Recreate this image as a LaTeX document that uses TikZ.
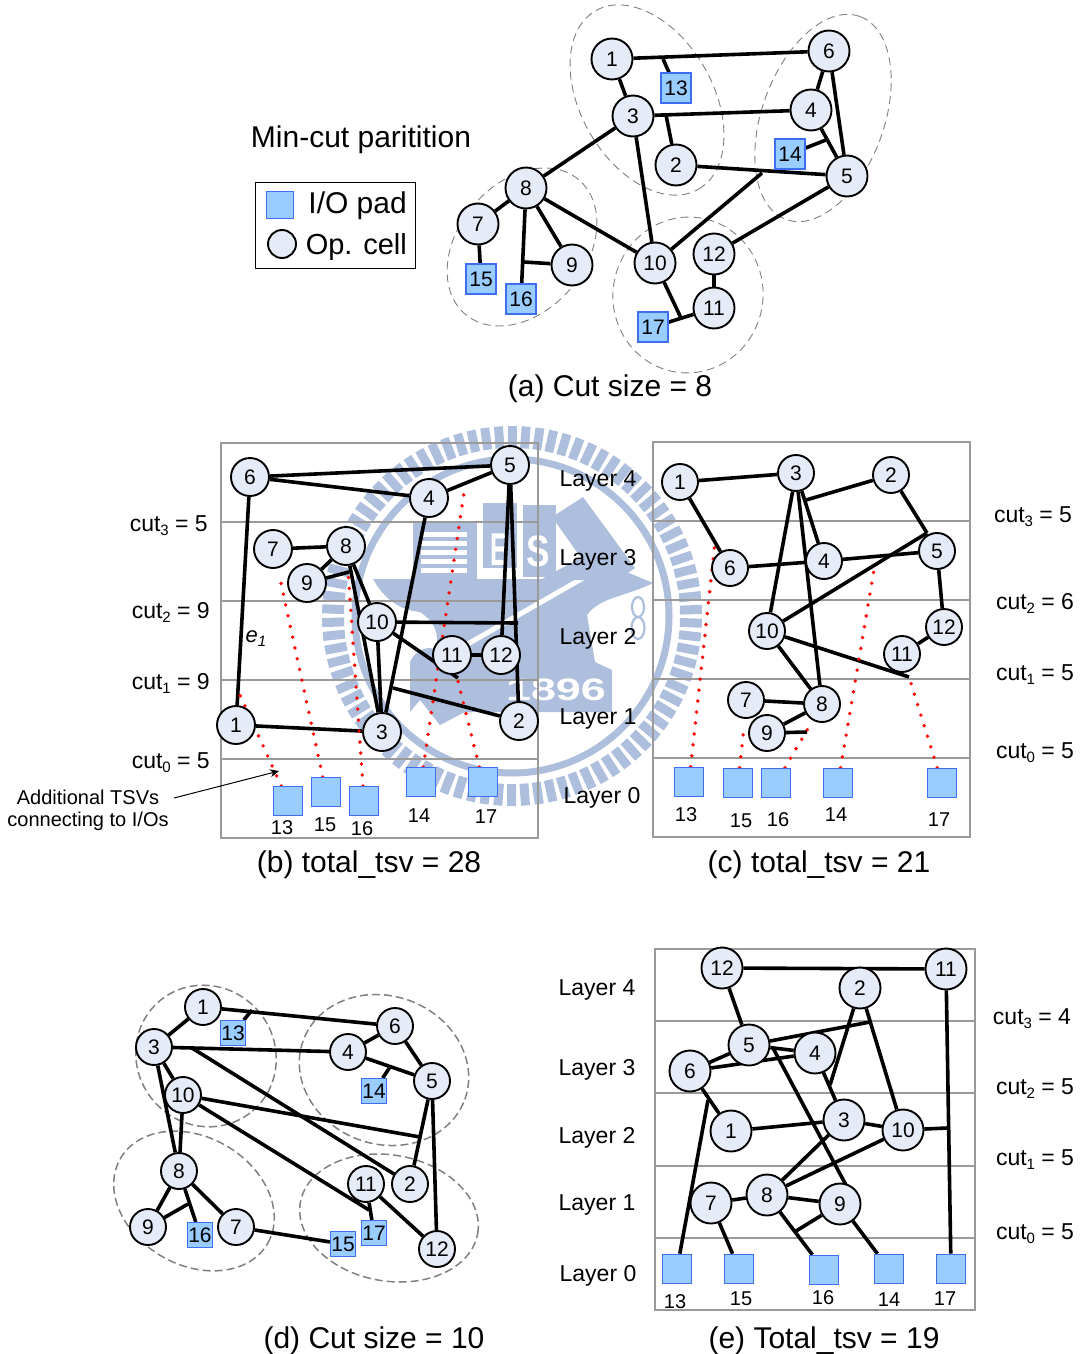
\documentclass[tikz,border=0pt]{standalone}
\usepackage{fontspec}
\setmainfont{Liberation Sans}
\usetikzlibrary{shapes.geometric,arrows.meta}
\pgfdeclarelayer{seal}
\pgfdeclarelayer{wire}
\pgfsetlayers{seal,wire,main}
\definecolor{cellfill}{HTML}{E6ECF7}
\definecolor{padfill}{HTML}{99CCFF}
\definecolor{paddraw}{HTML}{3D6FF0}
\definecolor{sealblue}{HTML}{AEBFDD}
\definecolor{rulegray}{HTML}{9A9A9A}
\newcommand{\subs}[1]{\raisebox{-0.35ex}{\fontsize{15}{15}\selectfont #1}}
\tikzset{
  cellnode/.style={circle,draw=black,line width=1.9pt,fill=cellfill,minimum size=#1,inner sep=0pt,font=\fontsize{21}{21}\selectfont},
  padnode/.style={rectangle,draw=paddraw,line width=1.1pt,fill=padfill,minimum size=#1,inner sep=0pt,font=\fontsize{21}{21}\selectfont},
  net/.style={draw=black,line width=3.6pt},
  tsv/.style={draw=red,line width=3.8pt,line cap=round,dash pattern=on 0pt off 11pt},
  groupring/.style={ellipse,draw=gray,line width=0.9pt,dash pattern=on 8pt off 5pt,inner sep=0pt},
  groupringb/.style={ellipse,draw=gray,line width=1.5pt,dash pattern=on 8pt off 4pt,inner sep=0pt},
  framebox/.style={draw=rulegray,line width=1.4pt},
  smalltxt/.style={font=\fontsize{20}{20}\selectfont,inner sep=0pt},
  layertxt/.style={font=\fontsize{23}{23}\selectfont,inner sep=0pt,yshift=-2.5pt},
  captiontxt/.style={font=\fontsize{30}{30}\selectfont,inner sep=0pt,yshift=-3pt},
}
\begin{document}
\begin{tikzpicture}[x=1pt,y=-1pt]
\useasboundingbox (0,0) rectangle (1082,1354);
%---------------- watermark seal
\begin{pgfonlayer}{seal}
\foreach \i in {0,...,85} \draw[sealblue,line width=9pt,shift={(512,616)}] ({\i*4.186+2}:168pt) -- ({\i*4.186+2}:190pt);
\draw[sealblue,line width=7pt] (512,616) circle[radius=157pt];
\fill[sealblue] (373,579) -- (560,579) -- (610,565) -- (653,583) .. controls (625,597) and (600,597) .. (587,615) -- (595,662) -- (612,670) -- (612,712) -- (465,712) -- (440,725) -- (420,700) -- (410,712) -- (410,662) .. controls (415,650) and (428,645) .. (436,650) .. controls (440,630) and (432,620) .. (420,612) .. controls (400,610) and (385,600) .. (373,579) -- cycle;
\draw[white,line width=5pt] (466,645) -- (597,570);
\fill[sealblue] (552,517) -- (583,497) -- (635,568) -- (604,590) -- cycle;
\fill[sealblue] (540,580) -- (595,550) -- (610,565) -- (600,580) -- cycle;
\fill[sealblue] (413,522) rectangle (477,579);
\foreach \y in {532,541,550,559,568} \fill[white] (421,\y) rectangle (467,\y+5);
\fill[sealblue] (483,503) rectangle (517,568);
\fill[sealblue] (523,505) rectangle (556,577);
\node[font=\bfseries\fontsize{46}{46}\selectfont,text=white,inner sep=0pt,xscale=0.55] (sealE) at (499,550) {E};
\node[font=\bfseries\fontsize{44}{44}\selectfont,text=white,inner sep=0pt,xscale=0.8] (sealS) at (538,551) {S};
\node[font=\bfseries\fontsize{31}{31}\selectfont,text=white,inner sep=0pt,xscale=1.45] (sealyear) at (556,690) {1896};
\draw[sealblue,line width=2.2pt] (638,607) ellipse[x radius=6pt,y radius=10pt];
\draw[sealblue,line width=2.2pt] (638,628) ellipse[x radius=6.5pt,y radius=11pt];
%---------------- panel frames
\draw[framebox] (221,443) rectangle (538,838);
\foreach \y in {522,601,680,759} \draw[framebox] (221,\y) -- (538,\y);
\draw[framebox] (653,442) rectangle (970,837);
\foreach \y in {521,600,679,758} \draw[framebox] (653,\y) -- (970,\y);
\draw[framebox] (655,949) rectangle (975,1310);
\foreach \y in {1021,1093,1166,1238} \draw[framebox] (655,\y) -- (975,\y);
\end{pgfonlayer}
%---------------- title and legend
\node[font=\fontsize{30}{30}\selectfont,inner sep=0pt] (title) at (361,140) {Min-cut paritition};
\node[draw=black,line width=0.9pt,minimum width=160pt,minimum height=86pt,inner sep=0pt] (legend) at (335,225) {};
\node[padnode=27pt] (legpad) at (280,205) {};
\node[cellnode=28pt] (legcell) at (282,244) {};
\node[font=\fontsize{30}{30}\selectfont,inner sep=0pt,anchor=east] (legpadt) at (407,206) {I/O pad};
\node[font=\fontsize{29}{29}\selectfont,inner sep=0pt,anchor=east] (legcellt) at (407,247) {Op. cell};
%---------------- panel (a)
\foreach \n/\x/\y in {1/612/59,3/633/116,2/676/165,6/829/51,4/811/110,5/847/176,8/526/188,7/478/224,9/572/265,10/655/263,12/714/254,11/714/308}
  \node[cellnode=41pt] (a\n) at (\x,\y) {\n};
\foreach \n/\x/\y in {13/676/88,14/790/154,15/481/279,16/521/299,17/653/327}
  \node[padnode=30pt] (a\n) at (\x,\y) {\n};
\coordinate (aj1) at (663,59);
\coordinate (aj2) at (666,115);
\coordinate (aj3) at (826,140);
\coordinate (aj4) at (762,173);
\coordinate (aj5) at (524,262);
\coordinate (aj6) at (681,318);
\begin{pgfonlayer}{wire}
\node[groupring,minimum width=206pt,minimum height=132pt,rotate=-60] (ag1) at (647,100) {};
\node[groupring,minimum width=216pt,minimum height=122pt,rotate=70] (ag2) at (823,118) {};
\node[groupring,minimum width=176pt,minimum height=128pt,rotate=50] (ag3) at (522,247) {};
\node[groupring,minimum width=156pt,minimum height=150pt,rotate=80] (ag4) at (688,295) {};
\foreach \p/\q in {a1/a6,aj1/a13,a1/a3,a3/a4,aj2/a2,a3/a8,a3/a10,a6/a4,a6/a5,a4/a5,aj3/a14,a2/a5,aj4/a10,a5/a12,a8/a7,a8/a10,a8/a9,a8/a16,aj5/a9,a7/a15,a10/aj6,a17/a11,a12/a11}
  \draw[net] (\p) -- (\q);
\end{pgfonlayer}
\node[captiontxt] (capa) at (610,386) {(a) Cut size = 8};
%---------------- panel (b)
\foreach \n/\x/\y in {6/250/477,5/510/465,4/429/498,7/273/549,8/346/546,9/307/583,10/377/622,11/452/655,12/501/655,1/236/725,3/382/732,2/519/721}
  \node[cellnode=38pt] (b\n) at (\x,\y) {\n};
\foreach \n/\x/\y in {13/288/801,15/326/792,16/364/801,14/421/782,17/483/782}
  \node[padnode=29pt] (b\n) at (\x,\y) {};
\foreach \n/\x/\y in {13/282/828,15/325/825,16/362/829,14/419/816,17/486/817}
  \node[smalltxt] (bl\n) at (\x,\y) {\n};
\coordinate (bj1) at (349,572);
\coordinate (bj2) at (518,623);
\coordinate (bj3) at (458,678);
\coordinate (bj4) at (393,688);
\coordinate (bt13) at (240,695);
\coordinate (bt15) at (279,574);
\coordinate (bt16) at (348,570);
\coordinate (bt14) at (465,486);
\coordinate (bt17) at (457,677);
\begin{pgfonlayer}{wire}
\foreach \p/\q in {b6/b5,b6/b4,b4/b5,b6/b1,b1/b3,b7/b8,b8/b9,b9/bj1,b8/b10,b8/b3,b10/b3,b4/b3,b5/b12,b5/b2,b10/bj2,b10/bj3,b11/b12,bj4/b2}
  \draw[net] (\p) -- (\q);
\foreach \p/\q in {b13/bt13,b15/bt15,b16/bt16,b14/bt14,b17/bt17}
  \draw[tsv] (\p) -- (\q);
\end{pgfonlayer}
\node[font=\itshape\fontsize{22}{22}\selectfont,inner sep=0pt] (eone) at (256,639) {e\subs{1}};
\node[layertxt,anchor=east] (bc3) at (208,523) {cut\subs{3} = 5};
\node[layertxt,anchor=east] (bc2) at (210,610) {cut\subs{2} = 9};
\node[layertxt,anchor=east] (bc1) at (210,681) {cut\subs{1} = 9};
\node[layertxt,anchor=east] (bc0) at (210,760) {cut\subs{0} = 5};
\node[layertxt] (bl4) at (598,478) {Layer 4};
\node[layertxt] (bl3) at (598,557) {Layer 3};
\node[layertxt] (bl2) at (598,636) {Layer 2};
\node[layertxt] (bl1) at (598,716) {Layer 1};
\node[layertxt] (bl0) at (602,795) {Layer 0};
\node[smalltxt] (addone) at (88,797) {Additional TSVs};
\node[smalltxt] (addtwo) at (88,821) {connecting to I/Os};
\coordinate (arrfrom) at (174,798);
\coordinate (arrto) at (279,771);
\draw[line width=1pt,-{Stealth[length=9pt,width=8pt]}] (arrfrom) -- (arrto);
\node[captiontxt] (capb) at (369,862) {(b) total\_tsv = 28};
%---------------- panel (c)
\foreach \n/\x/\y in {1/680/482,3/796/473,2/891/475,6/730/568,4/824/561,5/937/551,10/767/631,12/944/627,11/902/654,7/746/700,8/822/704,9/767/733}
  \node[cellnode=36pt] (c\n) at (\x,\y) {\n};
\foreach \n/\x/\y in {13/689/782,15/738/783,16/776/783,14/838/783,17/942/783}
  \node[padnode=29.5pt] (c\n) at (\x,\y) {};
\foreach \n/\x/\y in {13/686/815,15/741/821,16/778/820,14/836/815,17/939/820}
  \node[smalltxt] (cl\n) at (\x,\y) {\n};
\coordinate (cj1) at (806,500);
\coordinate (cj2) at (927,533);
\coordinate (cj3) at (909,677);
\coordinate (cj4) at (807,732);
\coordinate (ct13) at (715,542);
\coordinate (ct15) at (744,727);
\coordinate (ct16) at (810,725);
\coordinate (ct14) at (875,564);
\begin{pgfonlayer}{wire}
\foreach \p/\q in {c1/c3,c1/c6,c2/cj1,c3/c4,c3/c10,c3/c8,c2/cj2,cj2/c10,c6/c4,c4/c5,c5/c12,c12/c11,c10/c8,c10/cj3,c7/c8,c8/c9,c9/cj4}
  \draw[net] (\p) -- (\q);
\foreach \p/\q in {c13/ct13,c15/ct15,c16/ct16,c14/ct14,c17/cj3}
  \draw[tsv] (\p) -- (\q);
\end{pgfonlayer}
\node[layertxt] (cc3) at (1033,514) {cut\subs{3} = 5};
\node[layertxt] (cc2) at (1035,601) {cut\subs{2} = 6};
\node[layertxt] (cc1) at (1035,672) {cut\subs{1} = 5};
\node[layertxt] (cc0) at (1035,750) {cut\subs{0} = 5};
\node[captiontxt] (capc) at (819,862) {(c) total\_tsv = 21};
%---------------- panel (d)
\foreach \n/\x/\y in {1/203/1007,3/154/1047,10/183/1095,6/395/1026,4/348/1052,5/432/1081,8/179/1171,9/148/1227,7/236/1227,11/366/1184,2/410/1184,12/437/1249}
  \node[cellnode=36pt] (d\n) at (\x,\y) {\n};
\foreach \n/\x/\y in {13/233/1033,14/374/1091,16/200/1235,17/374/1233,15/343/1244}
  \node[padnode=25pt] (d\n) at (\x,\y) {\n};
\coordinate (dj1) at (252,1010);
\coordinate (dj2) at (192,1048);
\coordinate (dj3) at (420,1137);
\coordinate (dj4) at (369,1210);
\coordinate (dj5) at (390,1067);
\coordinate (dj6) at (188,1204);
\begin{pgfonlayer}{wire}
\node[groupringb,minimum width=144pt,minimum height=138pt,rotate=-50] (dg1) at (206,1056) {};
\node[groupringb,minimum width=172pt,minimum height=148pt,rotate=-20] (dg2) at (384,1070) {};
\node[groupringb,minimum width=170pt,minimum height=128pt,rotate=-30] (dg3) at (194,1201) {};
\node[groupringb,minimum width=180pt,minimum height=126pt,rotate=-10] (dg4) at (389,1218) {};
\foreach \p/\q in {d1/d3,d1/d6,dj1/d13,d3/d4,d3/d10,d3/d8,dj2/d2,d10/d8,d10/dj3,d10/dj4,d11/d17,d11/d12,d6/d4,d6/d5,d4/d5,dj5/d14,d5/d2,d5/d12,d8/d9,d8/d7,d8/d16,d9/dj6,d7/d15}
  \draw[net] (\p) -- (\q);
\end{pgfonlayer}
\node[captiontxt] (capd) at (374,1338) {(d) Cut size = 10};
%---------------- panel (e)
\foreach \n/\x/\y in {12/722/968,11/946/969,2/860/988,5/749/1045,4/815/1053,6/690/1071,1/731/1131,3/844/1120,10/903/1130,7/711/1203,8/767/1195,9/840/1204}
  \node[cellnode=41pt] (e\n) at (\x,\y) {\n};
\foreach \n/\x/\y in {13/677/1269,15/739/1269,16/824/1270,14/889/1269,17/951/1269}
  \node[padnode=29.5pt] (e\n) at (\x,\y) {};
\foreach \n/\x/\y in {13/675/1302,15/741/1299,16/823/1298,14/889/1300,17/945/1299}
  \node[smalltxt] (el\n) at (\x,\y) {\n};
\coordinate (ej1) at (830,1085);
\coordinate (ej2) at (870,1022);
\coordinate (ej3) at (708,1100);
\coordinate (ej4) at (947,1128);
\coordinate (ej5) at (796,1231);
\coordinate (ej6) at (773,1048);
\coordinate (ej7) at (847,1187);
\begin{pgfonlayer}{wire}
\foreach \p/\q in {e12/e11,e12/e5,e2/ej1,e2/e10,e11/e17,e5/ej2,e5/e6,e5/e4,ej6/ej7,e6/e4,e6/e1,e4/e3,ej3/e13,e1/e3,e3/e10,e10/ej4,e3/e8,e10/e8,e7/e8,e8/e9,e7/e15,e8/e16,ej5/e9,e9/e14}
  \draw[net] (\p) -- (\q);
\end{pgfonlayer}
\node[layertxt] (el4) at (597,987) {Layer 4};
\node[layertxt] (el3) at (597,1067) {Layer 3};
\node[layertxt] (el2) at (597,1135) {Layer 2};
\node[layertxt] (el1) at (597,1202) {Layer 1};
\node[layertxt] (el0) at (598,1273) {Layer 0};
\node[layertxt] (ec3) at (1032,1016) {cut\subs{3} = 4};
\node[layertxt] (ec2) at (1035,1086) {cut\subs{2} = 5};
\node[layertxt] (ec1) at (1035,1157) {cut\subs{1} = 5};
\node[layertxt] (ec0) at (1035,1231) {cut\subs{0} = 5};
\node[captiontxt] (cape) at (824,1338) {(e) Total\_tsv = 19};
\end{tikzpicture}
\end{document}
